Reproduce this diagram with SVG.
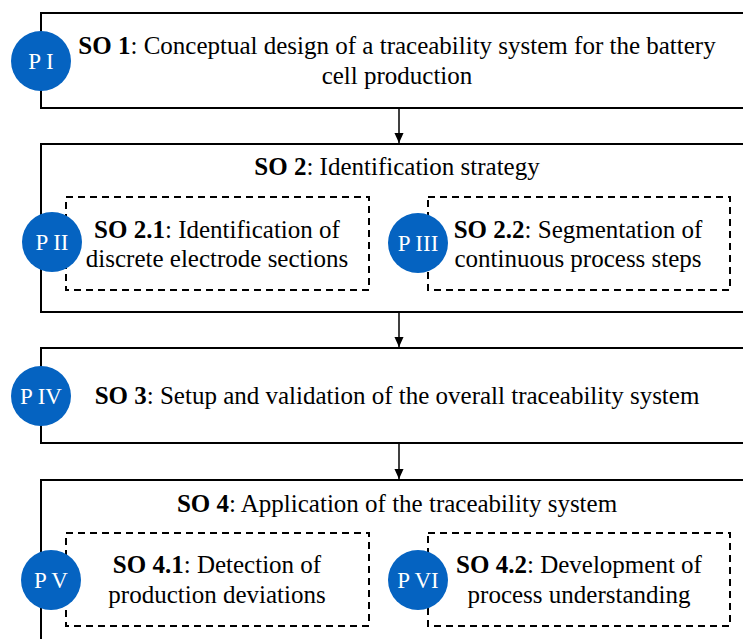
<svg xmlns="http://www.w3.org/2000/svg" width="743" height="639" viewBox="0 0 743 639">
<defs>
<marker id="ah" markerWidth="10" markerHeight="11" refX="11" refY="5" orient="auto" markerUnits="userSpaceOnUse" viewBox="0 0 11 10">
<path d="M0,0 L11,5 L0,10 Z" fill="#000"/>
</marker>
</defs>
<style>
.box{fill:#fff;stroke:#000;stroke-width:2}
.dash{fill:none;stroke:#000;stroke-width:2;stroke-dasharray:7,5}
.t{font-size:25px;fill:#000;text-anchor:middle}
.b{font-weight:bold}
.pc{fill:#0563C1}
.pt{font-size:23px;fill:#fff;text-anchor:middle}
.con{stroke:#000;stroke-width:1.5;fill:none}
</style>
<g id="connectors">
<line class="con" x1="399" y1="108" x2="399" y2="143" marker-end="url(#ah)"/>
<line class="con" x1="399" y1="312" x2="399" y2="347" marker-end="url(#ah)"/>
<line class="con" x1="399" y1="443" x2="399" y2="479" marker-end="url(#ah)"/>
</g>
<g font-family="'Liberation Serif', 'Times New Roman', serif">
<g id="so1">
<rect class="box" x="41" y="13" width="720" height="95"/>
<text class="t" x="397" y="54"><tspan class="b">SO 1</tspan>: Conceptual design of a traceability system for the battery</text>
<text class="t" x="397" y="84">cell production</text>
</g>
<g id="p1"><circle class="pc" cx="41" cy="61" r="30"/><text class="pt" x="41" y="69">P I</text></g>
<g id="so2">
<rect class="box" x="41" y="144" width="720" height="168"/>
<text class="t" x="397" y="175"><tspan class="b">SO 2</tspan>: Identification strategy</text>
</g>
<g id="so21">
<rect class="dash" x="66" y="197" width="303" height="93"/>
<text class="t" x="217" y="238"><tspan class="b">SO 2.1</tspan>: Identification of</text>
<text class="t" x="217" y="267">discrete electrode sections</text>
</g>
<g id="p2"><circle class="pc" cx="52" cy="242" r="30"/><text class="pt" x="52" y="250">P II</text></g>
<g id="so22">
<rect class="dash" x="428" y="197" width="302" height="93"/>
<text class="t" x="578" y="238"><tspan class="b">SO 2.2</tspan>: Segmentation of</text>
<text class="t" x="578" y="267">continuous process steps</text>
</g>
<g id="p3"><circle class="pc" cx="418" cy="243" r="30"/><text class="pt" x="418" y="251">P III</text></g>
<g id="so3">
<rect class="box" x="41" y="348" width="720" height="95"/>
<text class="t" x="397" y="404"><tspan class="b">SO 3</tspan>: Setup and validation of the overall traceability system</text>
</g>
<g id="p4"><circle class="pc" cx="41" cy="396" r="30"/><text class="pt" x="41" y="404">P IV</text></g>
<g id="so4">
<rect class="box" x="41" y="480" width="720" height="180"/>
<text class="t" x="397" y="512"><tspan class="b">SO 4</tspan>: Application of the traceability system</text>
</g>
<g id="so41">
<rect class="dash" x="66" y="533" width="303" height="93"/>
<text class="t" x="217" y="573"><tspan class="b">SO 4.1</tspan>: Detection of</text>
<text class="t" x="217" y="603">production deviations</text>
</g>
<g id="p5"><circle class="pc" cx="51" cy="580" r="30"/><text class="pt" x="51" y="588">P V</text></g>
<g id="so42">
<rect class="dash" x="428" y="533" width="302" height="93"/>
<text class="t" x="579" y="573"><tspan class="b">SO 4.2</tspan>: Development of</text>
<text class="t" x="579" y="603">process understanding</text>
</g>
<g id="p6"><circle class="pc" cx="418" cy="580" r="30"/><text class="pt" x="418" y="588">P VI</text></g>
</g>
</svg>
